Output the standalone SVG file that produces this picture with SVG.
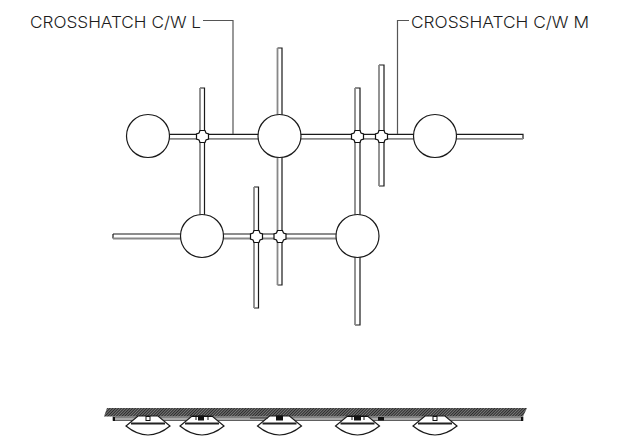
<svg xmlns="http://www.w3.org/2000/svg" width="620" height="437" viewBox="0 0 620 437">
<style>
text{font-family:"Inter","Lato",sans-serif;font-size:16.500px;font-weight:300;fill:#1c1c1c}
.k{stroke:#1a1a1a;stroke-width:1.200;fill:none}
.g{stroke:#888;stroke-width:1.800;fill:none}
.lead{stroke:#555;stroke-width:1.200;fill:none}
.c{fill:#fff;stroke:#1a1a1a;stroke-width:1.200}
.j{fill:#fff;stroke:#111;stroke-width:1.200}
.lamp{fill:#fff;stroke:#1a1a1a;stroke-width:1.200}
</style>
<defs>
<pattern id="hatch" width="2" height="2" patternUnits="userSpaceOnUse" patternTransform="rotate(-45)">
<rect width="2" height="2" fill="#7a7a7a"/><rect width="2" height="1" fill="#2a2a2a"/>
</pattern>
<path id="cross" d="M-2.500-6H2.500L3.500-3.500L6-2.500V2.500L3.500 3.500L2.500 6H-2.500L-3.500 3.500L-6 2.500V-2.500L-3.500-3.500Z"/>
<g id="lampShape">
<path class="lamp" d="M-10 416H10L22 426Q0 444-22 426Z"/>
<path d="M-17 423.500H17" stroke="#222" stroke-width="2"/>
</g>
</defs>
<g id="connectors">
<path class="k" d="M169 134.300H523V139M113 234H336M113 234V238.500M200 88H204.500V215M277.500 48H282V115M282 157V285H277.500M355 88H360V215M360 257V325H355M379 65H384V186H379M254 187H258.500V308H254"/>
<path class="g" d="M169 138.800H523M113 238.500H336M200 88V215M277.500 48V115M277.500 157V285M355 88V215M355 257V325M379 65V186M254 187V308"/>
<path class="lead" d="M203 20.500H233V134M397.500 134V20.500H409"/>
</g>
<g id="junctions">
<use href="#cross" class="j" x="202.500" y="136.500"/>
<use href="#cross" class="j" x="357.500" y="136.500"/>
<use href="#cross" class="j" x="381.500" y="136.500"/>
<use href="#cross" class="j" x="256.500" y="236.500"/>
<use href="#cross" class="j" x="280" y="236.500"/>
</g>
<g id="node-1"><circle class="c" cx="148" cy="136" r="21.500"/></g>
<g id="node-2"><circle class="c" cx="279.500" cy="136" r="21.500"/></g>
<g id="node-3"><circle class="c" cx="435" cy="136" r="21.500"/></g>
<g id="node-4"><circle class="c" cx="202" cy="236" r="21.500"/></g>
<g id="node-5"><circle class="c" cx="357.500" cy="236" r="21.500"/></g>
<g id="label-l"><text x="30" y="27.500" textLength="171" lengthAdjust="spacingAndGlyphs">CROSSHATCH C/W L</text></g>
<g id="label-m"><text x="411" y="27.500" textLength="178" lengthAdjust="spacingAndGlyphs">CROSSHATCH C/W M</text></g>
<g id="elevation">
<path d="M107 408H527L523 416.500H104Z" fill="url(#hatch)"/>
<rect x="113" y="417" width="410" height="3.500" fill="#aaa" stroke="#444" stroke-width=".8"/>
<rect x="113" y="417" width="2" height="4" fill="#111"/>
<rect x="521" y="417" width="2" height="4" fill="#111"/>
<use href="#lampShape" x="148"/>
<use href="#lampShape" x="202"/>
<use href="#lampShape" x="279.500"/>
<use href="#lampShape" x="357.500"/>
<use href="#lampShape" x="435"/>
<rect x="146" y="416.500" width="4" height="4" fill="#fff" stroke="#111"/>
<rect x="198" y="415.500" width="6" height="5" fill="#111"/>
<path d="M192 416.500H213M196 417V420M208 417V420" stroke="#111" fill="none"/>
<rect x="276" y="415.500" width="7" height="5" fill="#111"/>
<rect x="354" y="415.500" width="7" height="5" fill="#111"/>
<path d="M347 416.500H368M352 417V420M364 417V420" stroke="#111" fill="none"/>
<rect x="433" y="416.500" width="4" height="4" fill="#fff" stroke="#111"/>
<rect x="378" y="417" width="6" height="3.500" fill="#111"/>
<path d="M250 418H268" stroke="#333"/>
</g>
</svg>
